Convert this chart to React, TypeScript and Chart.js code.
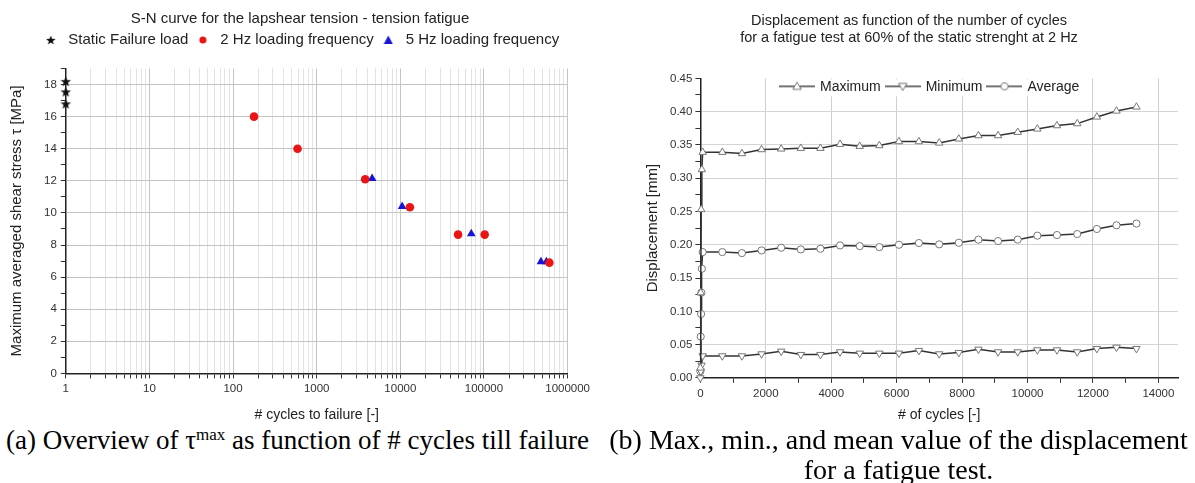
import React, { useEffect, useRef } from 'react';
import { Chart, registerables } from 'chart.js';

Chart.register(...registerables);

// ---------- Left chart (S-N curve) data ----------
const leftTitle = 'S-N curve for the lapshear tension - tension fatigue';
const staticLabel = 'Static Failure load';
const staticCycles = [1, 1, 1];
const staticStress = [18.2, 17.55, 16.8];
const hz2Label = '2 Hz loading frequency';
const hz2Cycles = [178, 590, 3800, 13000, 49000, 102000, 605000];
const hz2Stress = [16.0, 14.0, 12.1, 10.35, 8.65, 8.65, 6.9];
const hz5Label = '5 Hz loading frequency';
const hz5Cycles = [4600, 10500, 70500, 480000, 557000];
const hz5Stress = [12.15, 10.4, 8.7, 6.95, 6.95];
const leftDecades = [1, 10, 100, 1000, 10000, 100000, 1000000];
const leftYMajor = [0, 2, 4, 6, 8, 10, 12, 14, 16, 18];
const leftYMax = 19;
const leftXTitle = '# cycles to failure [-]';
const leftYTitle = 'Maximum averaged shear stress \u03c4 [MPa]';

// ---------- Right chart (displacement) data ----------
const rightTitle = ['Displacement as function of the number of cycles', 'for a fatigue test at 60% of the static strenght at 2 Hz'];
const maxLabel = 'Maximum';
const maxCycles = [0, 10, 25, 45, 70, 670, 1270, 1870, 2470, 3070, 3670, 4270, 4870, 5470, 6070, 6680, 7300, 7900, 8500, 9100, 9700, 10300, 10900, 11520, 12120, 12720, 13330];
const maxDisp = [0.015, 0.128, 0.253, 0.313, 0.339, 0.339, 0.337, 0.343, 0.344, 0.345, 0.345, 0.351, 0.348, 0.349, 0.355, 0.355, 0.353, 0.359, 0.364, 0.364, 0.369, 0.374, 0.379, 0.382, 0.392, 0.401, 0.407];
const minLabel = 'Minimum';
const minCycles = [0, 15, 35, 70, 670, 1270, 1870, 2470, 3070, 3670, 4270, 4870, 5470, 6070, 6680, 7300, 7900, 8500, 9100, 9700, 10300, 10900, 11520, 12120, 12720, 13330];
const minDisp = [0.0, 0.010, 0.019, 0.033, 0.033, 0.033, 0.036, 0.040, 0.035, 0.035, 0.039, 0.037, 0.037, 0.037, 0.041, 0.036, 0.038, 0.043, 0.039, 0.039, 0.042, 0.042, 0.039, 0.044, 0.046, 0.044];
const avgLabel = 'Average';
const avgCycles = [0, 10, 20, 30, 45, 70, 670, 1270, 1870, 2470, 3070, 3670, 4270, 4870, 5470, 6070, 6680, 7300, 7900, 8500, 9100, 9700, 10300, 10900, 11520, 12120, 12720, 13330];
const avgDisp = [0.01, 0.062, 0.096, 0.128, 0.164, 0.189, 0.189, 0.1875, 0.1915, 0.1955, 0.193, 0.194, 0.199, 0.198, 0.1965, 0.2, 0.2026, 0.2006, 0.203, 0.2077, 0.2056, 0.2077, 0.2137, 0.2146, 0.2161, 0.2237, 0.2293, 0.2318];
const rightXMajor = [0, 2000, 4000, 6000, 8000, 10000, 12000, 14000];
const rightXMax = 14600;
const rightYMajor = [0, 0.05, 0.1, 0.15, 0.2, 0.25, 0.3, 0.35, 0.4, 0.45];
const rightXTitle = '# of cycles [-]';
const rightYTitle = 'Displacement [mm]';

const SANS = "'Liberation Sans', Arial, sans-serif";
const SERIF = "'Liberation Serif', 'Times New Roman', serif";

const zip = (xs: number[], ys: number[]) => xs.map((x, i) => ({ x, y: ys[i] }));

// major ticks plus one minor tick halfway between consecutive majors (and after the last, up to max)
function withMinor(major: number[], max: number) {
  const out: { value: number; major: boolean }[] = [];
  major.forEach((v, i) => {
    out.push({ value: v, major: true });
    const next = i < major.length - 1 ? major[i + 1] : v + (v - major[i - 1]);
    const mid = (v + next) / 2;
    if (mid <= max + 1e-9) out.push({ value: mid, major: false });
  });
  return out;
}

function makeCanvas(w: number, h: number, draw: (ctx: CanvasRenderingContext2D) => void) {
  const c = document.createElement('canvas');
  c.width = w;
  c.height = h;
  draw(c.getContext('2d')!);
  return c;
}

function starIcon(size: number, color: string) {
  return makeCanvas(size, size, (ctx) => {
    const R = size / 2;
    const r = R * 0.42;
    ctx.beginPath();
    for (let i = 0; i < 10; i++) {
      const a = -Math.PI / 2 + (i * Math.PI) / 5;
      const rad = i % 2 === 0 ? R : r;
      ctx.lineTo(size / 2 + rad * Math.cos(a), size / 2 + 0.5 + rad * Math.sin(a));
    }
    ctx.closePath();
    ctx.fillStyle = color;
    ctx.fill();
  });
}

function circleIcon(size: number, color: string) {
  return makeCanvas(size, size, (ctx) => {
    ctx.beginPath();
    ctx.arc(size / 2, size / 2, size / 2 - 0.5, 0, Math.PI * 2);
    ctx.fillStyle = color;
    ctx.fill();
  });
}

function triIcon(size: number, color: string) {
  return makeCanvas(size, size, (ctx) => {
    ctx.beginPath();
    ctx.moveTo(size / 2, 0.5);
    ctx.lineTo(size - 0.5, size - 1);
    ctx.lineTo(0.5, size - 1);
    ctx.closePath();
    ctx.fillStyle = color;
    ctx.fill();
  });
}

function lineMarkerIcon(kind: 'up' | 'down' | 'circle') {
  const w = 36;
  const h = 12;
  return makeCanvas(w, h, (ctx) => {
    const cy = h / 2;
    ctx.strokeStyle = '#444';
    ctx.lineWidth = 1.3;
    ctx.beginPath();
    ctx.moveTo(0, cy);
    ctx.lineTo(w, cy);
    ctx.stroke();
    const cx = w / 2;
    ctx.beginPath();
    if (kind === 'circle') {
      ctx.arc(cx, cy, 3.6, 0, Math.PI * 2);
    } else if (kind === 'up') {
      ctx.moveTo(cx, cy - 4.2);
      ctx.lineTo(cx + 4.2, cy + 3);
      ctx.lineTo(cx - 4.2, cy + 3);
      ctx.closePath();
    } else {
      ctx.moveTo(cx, cy + 4.2);
      ctx.lineTo(cx + 4.2, cy - 3);
      ctx.lineTo(cx - 4.2, cy - 3);
      ctx.closePath();
    }
    ctx.fillStyle = '#fff';
    ctx.fill();
    ctx.strokeStyle = '#777';
    ctx.lineWidth = 1;
    ctx.stroke();
  });
}

// adds room below the legend (the plot starts lower than the legend's own box)
const legendGap = (extra: number) => ({
  id: 'legendGap',
  beforeInit(chart: any) {
    const legend = chart.legend;
    if (!legend) return;
    const orig = legend.fit;
    legend.fit = function () {
      orig.call(this);
      this.height += extra;
    };
  },
});

function buildLeft(): any {
  const legendIcons = [starIcon(10, '#111'), circleIcon(8, 'rgb(235,20,20)'), triIcon(10, 'rgb(20,20,210)')];
  const dataStar = starIcon(11, '#111');
  const logTicks: number[] = [];
  leftDecades.forEach((d, i) => {
    if (i === leftDecades.length - 1) logTicks.push(d);
    else for (let m = 1; m <= 9; m++) logTicks.push(m * d);
  });
  const isDecade = (v: number) => leftDecades.includes(v);
  const yTicks = withMinor(leftYMajor, leftYMax);
  return {
    type: 'scatter',
    data: {
      datasets: [
        { label: staticLabel, data: zip(staticCycles, staticStress), pointStyle: dataStar, clip: false },
        {
          label: hz2Label,
          data: zip(hz2Cycles, hz2Stress),
          pointStyle: 'circle',
          pointRadius: 4.3,
          backgroundColor: 'rgb(235,20,20)',
          borderColor: 'rgb(235,20,20)',
          borderWidth: 0,
          clip: false,
        },
        {
          label: hz5Label,
          data: zip(hz5Cycles, hz5Stress),
          pointStyle: 'triangle',
          pointRadius: 5,
          backgroundColor: 'rgb(20,20,210)',
          borderColor: 'rgb(20,20,210)',
          borderWidth: 0,
          clip: false,
        },
      ],
    },
    plugins: [legendGap(11)],
    options: {
      animation: false,
      responsive: false,
      layout: { padding: { left: 6, right: 0, top: 4, bottom: 0 } },
      plugins: {
        tooltip: { enabled: false },
        title: {
          display: true,
          text: leftTitle,
          color: '#222',
          font: { family: SANS, size: 15, weight: 'normal', lineHeight: 1.2 },
          padding: { top: 6, bottom: 0 },
        },
        legend: {
          display: true,
          position: 'top',
          labels: {
            usePointStyle: true,
            pointStyleWidth: 20,
            padding: 4.5,
            color: '#222',
            font: { family: SANS, size: 15 },
            generateLabels: (chart: any) =>
              chart.data.datasets.map((ds: any, i: number) => ({
                text: ds.label,
                pointStyle: legendIcons[i],
                fillStyle: 'transparent',
                strokeStyle: 'transparent',
                lineWidth: 0,
                hidden: false,
                datasetIndex: i,
                fontColor: '#222',
              })),
          },
        },
      },
      scales: {
        x: {
          type: 'logarithmic',
          min: leftDecades[0],
          max: leftDecades[leftDecades.length - 1],
          afterBuildTicks: (scale: any) => {
            scale.ticks = logTicks.map((v) => ({ value: v, major: isDecade(v) }));
          },
          ticks: {
            autoSkip: false,
            maxRotation: 0,
            color: '#333',
            font: { family: SANS, size: 11.5 },
            padding: 4,
            callback: (v: any) => (isDecade(Number(v)) ? String(v) : ''),
          },
          grid: {
            color: (ctx: any) => (ctx.tick && isDecade(ctx.tick.value) ? '#c4c4c4' : '#e2e2e2'),
            tickColor: '#333',
            tickLength: 5,
          },
          border: { color: '#222', width: 1.5 },
          title: { display: true, text: leftXTitle, color: '#222', font: { family: SANS, size: 14 }, padding: { top: 7, bottom: 1 } },
        },
        y: {
          type: 'linear',
          min: 0,
          max: leftYMax,
          afterBuildTicks: (scale: any) => {
            scale.ticks = yTicks.map((t) => ({ ...t }));
          },
          ticks: {
            autoSkip: false,
            color: '#333',
            font: { family: SANS, size: 11.5 },
            padding: 4,
            callback: (v: any, i: number, ticks: any[]) => (ticks[i] && ticks[i].major ? String(v) : ''),
          },
          grid: {
            color: (ctx: any) => (ctx.tick && ctx.tick.major ? '#c4c4c4' : 'rgba(0,0,0,0)'),
            tickColor: '#333',
            tickLength: 5,
          },
          border: { color: '#222', width: 1.5 },
          title: { display: true, text: leftYTitle, color: '#222', font: { family: SANS, size: 15 }, padding: { top: 2, bottom: 14 } },
        },
      },
    },
  };
}

function buildRight(): any {
  const legendIcons = [lineMarkerIcon('up'), lineMarkerIcon('down'), lineMarkerIcon('circle')];
  const insideLegend = {
    id: 'insideLegend',
    beforeDatasetsDraw(chart: any) {
      const { ctx, chartArea } = chart;
      ctx.save();
      ctx.font = `14px ${SANS}`;
      const iconW = 36;
      const gapText = 5;
      const gapItem = 4;
      const items = chart.data.datasets.map((ds: any, i: number) => ({
        icon: legendIcons[i],
        text: ds.label as string,
        tw: ctx.measureText(ds.label).width,
      }));
      const total = items.reduce((s: number, it: any) => s + iconW + gapText + it.tw, 0) + gapItem * (items.length - 1);
      let x = (chartArea.left + chartArea.right) / 2 - total / 2 - 10;
      const y = chartArea.top + 8;
      ctx.fillStyle = '#fff';
      ctx.fillRect(x - 8, chartArea.top + 1, total + 16, 17);
      ctx.fillStyle = '#222';
      ctx.textBaseline = 'middle';
      items.forEach((it: any) => {
        ctx.drawImage(it.icon, x, y - it.icon.height / 2);
        x += iconW + gapText;
        ctx.fillText(it.text, x, y + 1);
        x += it.tw + gapItem;
      });
      ctx.restore();
    },
  };
  const lineStyle = {
    showLine: true,
    borderColor: '#333',
    borderWidth: 1.5,
    pointBackgroundColor: '#fff',
    pointBorderColor: '#777',
    pointBorderWidth: 1,
    clip: false,
  };
  const xTicks = withMinor(rightXMajor, rightXMax);
  const yTicks = withMinor(rightYMajor, rightYMajor[rightYMajor.length - 1]);
  const yTop = rightYMajor[rightYMajor.length - 1];
  return {
    type: 'scatter',
    data: {
      datasets: [
        { ...lineStyle, label: maxLabel, data: zip(maxCycles, maxDisp), pointStyle: 'triangle', pointRadius: 4.3 },
        { ...lineStyle, label: minLabel, data: zip(minCycles, minDisp), pointStyle: 'triangle', pointRotation: 180, pointRadius: 4.3 },
        { ...lineStyle, label: avgLabel, data: zip(avgCycles, avgDisp), pointStyle: 'circle', pointRadius: 3.6 },
      ],
    },
    plugins: [insideLegend],
    options: {
      animation: false,
      responsive: false,
      layout: { padding: { left: 20, right: 17, top: 4, bottom: 0 } },
      plugins: {
        tooltip: { enabled: false },
        legend: { display: false },
        title: {
          display: true,
          text: rightTitle,
          color: '#222',
          font: { family: SANS, size: 14.5, weight: 'normal', lineHeight: 1.15 },
          padding: { top: 9, bottom: 32 },
        },
      },
      scales: {
        x: {
          type: 'linear',
          min: 0,
          max: rightXMax,
          afterBuildTicks: (scale: any) => {
            scale.ticks = xTicks.map((t) => ({ ...t }));
          },
          ticks: {
            maxRotation: 0,
            autoSkip: false,
            color: '#333',
            font: { family: SANS, size: 11.5 },
            padding: 4,
            callback: (v: any, i: number, ticks: any[]) => (ticks[i] && ticks[i].major ? String(v) : ''),
          },
          grid: {
            color: (ctx: any) => (ctx.tick && ctx.tick.major ? '#cfcfcf' : 'rgba(0,0,0,0)'),
            tickColor: '#333',
            tickLength: 5,
          },
          border: { color: '#222', width: 1.5 },
          title: { display: true, text: rightXTitle, color: '#222', font: { family: SANS, size: 14 }, padding: { top: 2.5, bottom: 1 } },
        },
        y: {
          type: 'linear',
          min: 0,
          max: yTop,
          afterBuildTicks: (scale: any) => {
            scale.ticks = yTicks.map((t) => ({ ...t }));
          },
          ticks: {
            autoSkip: false,
            color: '#333',
            font: { family: SANS, size: 11.5 },
            padding: 3,
            callback: (v: any, i: number, ticks: any[]) => (ticks[i] && ticks[i].major ? Number(v).toFixed(2) : ''),
          },
          grid: {
            color: (ctx: any) =>
              ctx.tick && ctx.tick.major && Math.abs(ctx.tick.value - yTop) > 1e-9 ? '#d4d4d4' : 'rgba(0,0,0,0)',
            tickColor: '#333',
            tickLength: 5,
          },
          border: { color: '#222', width: 1.5 },
          title: { display: true, text: rightYTitle, color: '#222', font: { family: SANS, size: 15 }, padding: { bottom: 5 } },
        },
      },
    },
  };
}

function ChartBox({ left, top, width, height, build }: { left: number; top: number; width: number; height: number; build: () => any }) {
  const ref = useRef<HTMLCanvasElement>(null);
  useEffect(() => {
    const chart = new Chart(ref.current as HTMLCanvasElement, build());
    return () => chart.destroy();
  }, []);
  return (
    <div style={{ position: 'absolute', left, top, width, height }}>
      <canvas ref={ref} width={width} height={height} style={{ width, height, display: 'block' }} />
    </div>
  );
}

export default function App() {
  const captionStyle: React.CSSProperties = {
    position: 'absolute',
    fontFamily: SERIF,
    fontSize: 27,
    lineHeight: '30px',
    color: '#000',
    textAlign: 'center',
    whiteSpace: 'nowrap',
  };
  return (
    <div style={{ position: 'absolute', left: 0, top: 0, width: 1195, height: 483, background: '#fff', overflow: 'hidden' }}>
      <ChartBox left={0} top={0} width={594} height={425} build={buildLeft} />
      <ChartBox left={620} top={0} width={575} height={425} build={buildRight} />
      <div style={{ ...captionStyle, left: 0, top: 425, width: 595 }}>
        (a) Overview of {'\u03c4'}
        <sup style={{ fontSize: 17, verticalAlign: 'top', position: 'relative', top: -5 }}>max</sup> as function of # cycles till failure
      </div>
      <div style={{ ...captionStyle, fontSize: 28, left: 600, top: 425, width: 597 }}>
        (b) Max., min., and mean value of the displacement
        <br />
        for a fatigue test.
      </div>
    </div>
  );
}
